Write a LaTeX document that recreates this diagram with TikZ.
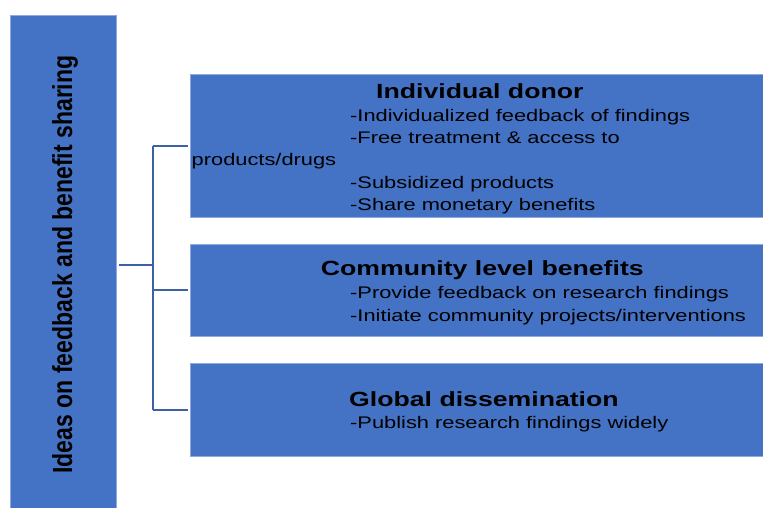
\documentclass[tikz,border=0pt]{standalone}
\usepackage{fontspec}
\setmainfont{Liberation Sans}
\definecolor{boxblue}{RGB}{68,114,196}
\definecolor{edgeblue}{RGB}{143,170,220}
\definecolor{linkblue}{RGB}{62,96,165}
\newcommand{\stretchtxt}[1]{\scalebox{1.3}[1]{#1}}
\tikzset{
  panel/.style={fill=boxblue, draw=edgeblue, line width=0.6pt, anchor=north west, inner sep=0pt},
  link/.style={draw=linkblue, line width=2pt},
  headtxt/.style={anchor=base west, inner sep=0pt, font=\fontsize{20.5}{24}\selectfont\bfseries},
  itemtxt/.style={anchor=base west, inner sep=0pt, font=\fontsize{16.8}{20}\selectfont}
}
\begin{document}
\begin{tikzpicture}[x=1pt,y=-1pt]
\useasboundingbox (0,0) rectangle (763,508);
% root bar
\node[panel, minimum width=106pt, minimum height=495pt] (root) at (10,15) {};
\node[rotate=90, anchor=base, inner sep=0pt] (rootlbl) at (72,264.5)
  {\fontsize{23}{27}\selectfont\bfseries\scalebox{1}[1.2]{Ideas on feedback and benefit sharing}};
% boxes
\node[panel, minimum width=575pt, minimum height=143pt] (b1) at (190,74) {};
\node[panel, minimum width=575pt, minimum height=92pt] (b2) at (190,244) {};
\node[panel, minimum width=575pt, minimum height=93pt] (b3) at (190,363) {};
% connectors
\coordinate (j) at (152.7,265);
\draw[link] ([xshift=2pt]root.east |- j) -- (j);
\draw[link] (j |- b1.west) -- (j |- b3.west);
\draw[link] (j |- b1.west) -- ([xshift=-2.5pt]b1.west);
\draw[link] (j |- b2.west) -- ([xshift=-2.5pt]b2.west);
\draw[link] (j |- b3.west) -- ([xshift=-2.5pt]b3.west);
% box 1 text
\node[headtxt] (h1) at (376,98.3) {\stretchtxt{Individual donor}};
\node[itemtxt] (t11) at (350,121.7) {\stretchtxt{-Individualized feedback of findings}};
\node[itemtxt] (t12) at (350,143.3) {\stretchtxt{-Free treatment \& access to}};
\node[itemtxt] (t13) at (191.5,165.7) {\stretchtxt{products/drugs}};
\node[itemtxt] (t14) at (350,188.3) {\stretchtxt{-Subsidized products}};
\node[itemtxt] (t15) at (350,210) {\stretchtxt{-Share monetary benefits}};
% box 2 text
\node[headtxt] (h2) at (320.7,275.7) {\stretchtxt{Community level benefits}};
\node[itemtxt] (t21) at (350,298.3) {\stretchtxt{-Provide feedback on research findings}};
\node[itemtxt] (t22) at (350,321) {\stretchtxt{-Initiate community projects/interventions}};
% box 3 text
\node[headtxt] (h3) at (349,406.7) {\stretchtxt{Global dissemination}};
\node[itemtxt] (t31) at (350,428.3) {\stretchtxt{-Publish research findings widely}};
\end{tikzpicture}
\end{document}
